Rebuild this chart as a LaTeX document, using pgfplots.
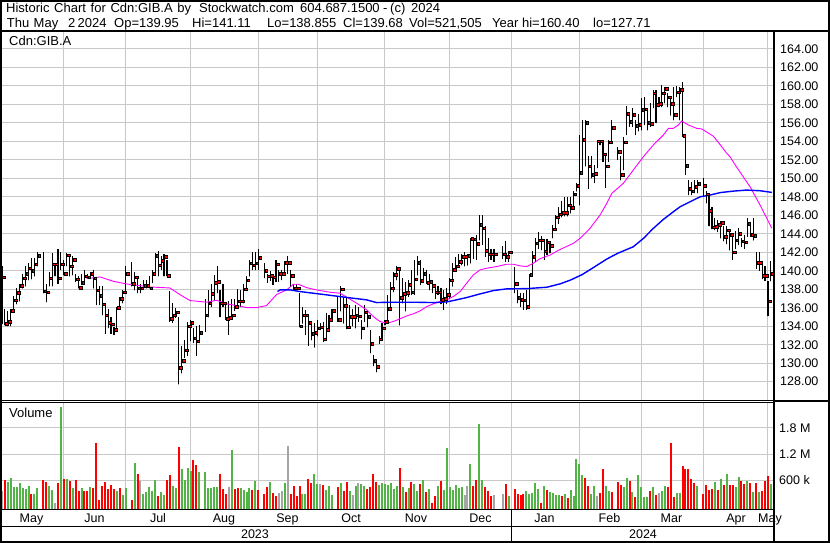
\documentclass[border=0pt]{standalone}
\usepackage{pgfplots}
\usepackage{pgfplotstable}
\pgfplotsset{compat=1.18}
\usepackage{fontspec}
\setmainfont{Liberation Sans}
\definecolor{gridgray}{RGB}{200,200,200}
\definecolor{vgreen}{RGB}{82,180,70}
\definecolor{vgray}{RGB}{165,165,165}
\definecolor{cred}{RGB}{255,0,0}
\definecolor{mag}{RGB}{255,0,255}
\definecolor{mblue}{RGB}{0,0,255}

% daily bars: i = weekday slot since 3 May 2023 (holidays left empty)
\pgfplotstableread{
i H L C
0 140.5 134.2 139.3
1 135.9 134.1 134.3
2 135.6 134.0 134.5
3 135.9 134.0 135.7
4 137.3 135.6 136.8
5 138.1 136.4 137.6
6 138.6 136.7 138.4
7 139.7 138.1 139.2
8 140.5 138.3 139.7
9 140.8 139.0 140.3
10 141.4 139.1 140.0
11 141.4 139.4 140.7
12 142.0 140.5 141.6
14 142.0 137.6 137.8
15 138.6 136.6 137.7
16 139.9 138.3 139.2
17 141.9 138.3 140.7
18 140.8 139.4 140.7
19 142.4 138.6 139.2
20 142.0 140.1 140.7
21 141.2 139.5 139.7
22 141.9 140.5 141.7
23 141.6 139.4 140.5
24 141.6 139.5 141.2
25 139.7 138.8 139.1
26 139.4 138.1 138.2
27 139.7 138.5 138.7
28 140.1 138.7 139.4
29 139.6 139.2 139.3
30 139.9 139.2 139.7
31 140.1 138.1 139.2
32 139.0 136.3 137.9
33 138.3 136.3 137.3
34 138.3 135.2 136.4
35 136.5 133.2 135.2
36 135.9 133.8 134.4
37 135.0 133.2 134.2
38 133.9 133.1 133.6
39 136.1 133.6 136.0
40 137.2 136.1 137.0
41 137.9 136.5 137.7
42 140.5 137.6 139.7
44 140.9 138.3 138.6
45 139.9 137.9 139.3
46 139.1 137.6 138.1
47 138.6 137.6 138.1
48 139.0 138.1 138.4
49 139.0 138.1 138.4
50 139.4 138.1 138.1
51 140.1 138.7 139.7
52 141.9 139.7 141.6
53 142.1 139.4 140.6
54 141.6 140.1 141.1
55 141.8 139.4 141.5
56 141.2 139.4 139.5
57 137.8 134.5 134.8
58 136.5 134.4 135.2
59 136.0 134.9 135.5
60 135.0 127.71 129.5
61 131.9 128.9 130.3
62 132.5 130.6 131.4
63 134.5 130.8 134.0
64 134.7 132.4 134.4
65 133.8 132.2 132.7
66 134.0 130.8 132.4
67 134.1 132.2 133.3
69 136.9 133.4 135.2
70 137.9 135.0 136.5
71 138.6 136.1 137.5
72 139.5 136.8 138.7
73 140.5 137.6 138.8
74 137.9 135.0 136.5
75 138.6 136.1 136.5
76 136.5 134.7 134.8
77 136.7 133.1 134.9
78 136.9 134.9 135.2
79 136.9 135.7 136.1
80 138.0 135.9 136.7
81 137.9 136.1 136.7
82 138.6 136.5 138.0
83 139.4 138.0 139.0
84 141.2 139.4 140.8
85 142.0 140.1 140.6
86 142.0 140.1 140.8
87 142.4 140.1 141.4
89 140.8 139.2 140.0
90 139.7 138.7 139.4
91 140.0 138.9 139.5
92 139.5 138.5 139.3
93 141.2 138.8 140.7
94 140.1 138.8 139.7
95 140.1 139.0 139.7
96 141.1 139.7 140.9
97 141.6 139.7 140.9
98 140.1 138.3 139.5
99 138.6 137.9 138.1
100 138.6 137.9 138.1
101 137.6 133.9 134.0
102 136.1 134.3 135.2
103 135.8 133.1 135.2
104 135.0 131.9 134.4
105 134.1 132.5 133.2
106 134.3 131.7 133.3
107 134.7 132.9 133.8
108 134.3 133.6 133.9
109 134.5 132.3 132.6
110 135.4 132.5 133.6
111 135.2 133.6 134.7
112 135.9 134.5 135.7
114 137.3 134.5 134.7
115 138.3 135.6 138.0
116 137.2 134.3 136.2
117 137.1 133.7 133.9
118 136.3 133.9 135.0
119 135.9 134.0 135.0
120 136.3 133.8 135.2
121 136.1 134.5 135.1
122 134.7 132.6 133.8
123 136.3 134.5 135.5
124 135.4 133.9 135.0
125 133.6 131.1 132.1
126 130.9 129.7 130.3
127 130.0 129.0 129.6
128 132.9 132.1 132.6
129 134.3 132.5 133.8
130 134.7 134.1 134.5
131 137.4 134.7 135.9
132 138.8 136.1 138.1
133 139.9 137.7 139.6
134 140.5 139.0 140.2
135 140.1 134.1 137.1
136 139.2 136.5 137.5
137 138.8 135.6 137.6
138 139.0 137.2 138.5
139 140.1 137.4 137.7
140 141.2 137.4 139.1
141 141.6 139.5 140.9
142 141.2 138.5 138.9
143 140.3 138.8 139.7
144 140.1 138.6 138.7
145 139.7 137.9 138.8
146 139.0 137.6 138.4
147 138.6 137.0 137.7
148 138.3 137.4 137.7
149 138.1 136.4 136.9
150 137.9 135.8 137.0
151 138.1 136.4 137.4
152 139.2 137.0 139.0
153 140.8 138.3 140.1
154 141.5 139.9 140.5
155 141.8 140.6 141.0
156 141.8 140.6 141.5
157 142.0 140.5 141.5
158 141.8 140.6 141.6
159 143.6 140.8 143.5
160 143.5 141.3 143.4
161 143.9 141.2 142.9
162 146.0 143.3 145.0
163 146.0 142.8 144.6
164 144.8 141.5 142.2
165 143.5 141.0 141.8
166 142.4 141.2 141.8
167 142.4 141.0 141.8
170 142.7 141.3 141.8
171 143.2 141.0 141.5
172 142.1 141.0 142.0
174 140.4 137.6 138.6
175 137.9 136.5 137.1
176 137.6 136.1 136.9
177 137.6 135.8 136.8
178 137.9 135.8 136.1
179 139.7 136.1 139.6
180 142.1 139.7 141.5
181 143.5 141.0 143.0
182 144.2 142.4 143.3
183 143.8 142.2 143.3
184 143.3 141.2 142.1
185 143.4 141.7 143.1
186 143.0 141.9 142.7
187 145.0 143.5 144.5
188 146.0 144.4 145.8
189 146.9 145.1 146.1
190 147.6 145.8 146.3
191 148.0 145.9 146.3
192 148.0 145.9 147.1
193 148.0 146.2 146.8
194 148.6 146.9 148.3
195 149.5 148.6 149.2
196 154.7 147.1 150.6
197 156.3 150.5 154.2
198 156.3 151.3 156.0
199 152.4 148.9 151.3
200 152.4 150.0 150.4
201 151.4 149.5 150.5
202 154.2 151.1 154.0
203 154.2 153.6 154.0
204 154.0 151.8 152.6
205 152.4 149.0 151.3
206 154.2 151.8 153.9
207 156.3 153.8 155.5
209 153.4 152.0 152.9
210 152.4 149.8 150.4
211 154.5 150.9 153.9
212 157.8 154.7 157.0
213 157.0 155.6 156.1
214 157.6 155.6 156.9
215 156.3 154.7 155.7
216 157.0 155.1 155.8
217 158.7 155.2 157.4
218 158.8 155.8 157.5
219 157.4 155.2 156.0
220 158.1 155.6 155.9
221 159.6 157.6 159.2
222 159.6 156.0 158.0
223 158.8 157.7 158.1
224 160.1 157.7 159.2
225 159.9 158.1 159.7
226 159.2 157.7 158.8
227 158.8 156.8 158.1
228 159.9 156.3 156.9
229 160.0 158.8 159.3
230 159.9 156.3 159.6
231 160.40 154.5 154.6
232 154.5 150.4 151.4
233 149.8 148.2 148.9
234 149.6 148.2 148.6
235 149.8 148.4 149.1
236 149.8 148.4 149.4
238 150.0 148.0 149.2
239 148.6 147.3 148.3
240 148.4 144.8 146.5
241 146.9 144.5 144.7
242 145.7 144.4 144.8
243 145.5 144.2 145.0
244 145.4 143.5 145.2
245 144.8 143.2 143.7
246 144.8 142.9 144.4
247 144.4 142.2 143.9
248 144.1 141.2 142.0
249 144.3 142.4 143.3
250 144.6 142.8 144.0
251 143.5 142.6 143.2
252 143.9 142.4 143.1
253 145.7 143.7 145.1
254 145.2 143.7 143.9
255 145.7 143.3 143.8
256 142.0 140.2 140.9
257 142.0 140.0 140.9
258 140.8 139.1 139.5
259 140.5 138.9 139.5
260 138.9 135.1 136.7
261 141.11 138.855 139.68
}\prices

\pgfplotstableread{
i v
2 0.56
3 0.65
4 0.44
5 0.44
6 0.53
7 0.43
8 0.41
9 0.46
11 0.28
12 0.42
16 0.46
17 0.37
20 2.28
22 0.63
24 0.43
27 0.42
30 0.44
39 0.35
41 0.26
42 0.42
45 1.00
48 0.28
49 0.33
50 0.44
51 0.35
52 0.60
54 0.33
55 0.26
58 0.46
59 0.42
61 0.86
62 0.60
63 0.88
64 0.81
67 0.79
69 0.79
70 0.42
71 0.42
72 0.44
73 0.44
78 1.30
81 0.42
82 0.37
83 0.33
84 0.42
86 0.58
91 0.56
96 0.53
102 0.28
103 0.28
106 0.74
107 0.51
110 0.37
111 0.46
112 0.26
115 0.53
118 0.35
120 0.46
122 0.51
123 0.46
128 0.49
129 0.53
130 0.51
131 0.49
132 0.53
133 0.39
134 0.46
136 0.44
138 0.42
140 0.51
141 0.35
143 0.60
145 0.39
148 0.46
150 0.37
151 1.35
152 0.44
153 0.37
154 0.49
155 0.42
156 0.44
159 0.98
162 1.90
163 0.60
172 0.23
178 0.35
179 0.28
180 0.30
181 0.53
182 0.39
184 0.46
186 0.33
187 0.30
188 0.26
189 0.26
191 0.28
193 0.37
194 0.23
195 1.09
196 0.98
197 0.72
200 0.28
201 0.46
205 0.46
206 0.35
211 0.44
212 0.65
214 0.33
216 0.72
217 0.44
218 0.21
219 0.21
221 0.44
224 0.35
225 0.46
229 0.30
230 0.30
236 0.46
242 0.56
244 0.63
246 0.74
249 0.44
250 0.67
253 0.58
255 0.33
257 0.33
261 0.52
}\volg

\pgfplotstableread{
i v
1 0.60
10 0.29
14 0.60
15 0.55
19 0.53
21 0.63
23 0.58
25 0.60
26 0.35
28 0.35
29 0.35
31 0.42
32 1.46
33 0.16
34 0.46
35 0.56
36 0.39
37 0.49
38 0.39
40 0.42
44 0.14
46 0.74
53 0.23
56 0.60
57 0.72
60 1.37
65 1.07
66 0.95
74 0.74
75 0.39
76 0.28
79 0.39
80 0.42
85 0.37
87 0.37
89 0.28
90 0.44
92 0.30
93 0.23
98 0.28
99 0.46
100 0.23
101 0.46
104 0.63
105 0.53
109 0.49
114 0.44
116 0.35
117 0.56
124 0.39
125 0.44
126 0.74
127 0.56
135 0.88
137 0.33
139 0.56
142 0.51
144 0.33
146 0.07
147 0.23
149 0.58
160 0.46
161 0.60
164 0.44
165 0.35
166 0.23
171 0.51
174 0.39
175 0.28
176 0.26
177 0.28
183 0.07
185 0.37
190 0.23
192 0.19
198 0.65
199 0.46
203 0.30
204 0.86
207 0.33
209 0.56
210 0.49
213 0.58
215 0.21
220 0.35
222 0.26
226 0.44
227 1.46
228 0.21
231 0.93
232 0.86
233 0.86
234 0.63
235 0.53
238 0.28
239 0.49
240 0.37
241 0.39
243 0.37
245 0.49
247 0.49
248 0.49
251 0.58
252 0.51
254 0.53
256 0.53
258 0.35
259 0.58
260 0.70
}\volr

\pgfplotstableread{
i v
0 0.35
18 0.07
47 0.58
77 0.44
94 0.30
95 0.35
97 1.39
108 0.51
119 0.26
121 0.53
157 0.26
158 0.46
167 0.26
170 0.28
202 0.23
223 0.30
}\volk

\pgfplotsset{
  chartax/.style={
    scale only axis, anchor=south west, width=774pt,
    xmin=-0.68, xmax=262.05,
    axis line style={draw=none}, tick style={draw=none},
    major tick length=0pt,
    xtick={21,42,64,87,107,130,152,173,196,217,238,260},
    xticklabels={},
    grid=major, major grid style={draw=gridgray, line width=1pt},
    yticklabel pos=right,
    yticklabel style={anchor=west, inner sep=0pt, font=\fontsize{12.5}{14}\selectfont},
  },
  hidemarks/.style={only marks, mark=*, mark size=0.01pt, mark options={draw=none, fill=none}},
}

\newcommand{\tf}{\fontsize{13}{15}\selectfont}

\begin{document}
\begin{tikzpicture}[x=1pt,y=1pt]
\useasboundingbox (0,0) rectangle (830,543);

% ---------------- price panel ----------------
\begin{axis}[chartax,
  at={(0pt,142pt)}, height=369pt,
  ymin=125.912, ymax=165.834,
  ytick={128,130,...,164},
  yticklabel={\pgfmathprintnumber[fixed,fixed zerofill,precision=2,assume math mode=true]{\tick}},
  yticklabel style={xshift=6pt},
]
\addplot[black, hidemarks,
  error bars/.cd, y dir=plus, y explicit, error mark=none,
  error bar style={draw=black, line width=1.1pt}]
  table[x=i, y=L, y error plus expr=\thisrow{H}-\thisrow{L}] {\prices};
\addplot[only marks, mark=square*, mark size=1.3pt,
  mark options={fill=cred, draw=none}]
  table[x expr=\thisrow{i}+0.62, y=C] {\prices};
% moving averages
\addplot[mag, line width=0.9pt] coordinates {
(28.7,139.15) (33.3,139.33) (37.8,138.86) (42.3,138.57) (46.8,138.39) (50.2,138.25)
(57.0,138.14) (60.4,137.42) (63.8,136.78) (69.5,136.6) (72.9,136.81) (76.3,136.42)
(80.8,136.17) (83.1,136.02) (86.5,136.02) (89.8,136.24) (93.2,137.43) (96.6,137.93)
(98.9,138.54) (100.6,138.54) (103.4,138.18) (105.7,138.0) (107.9,137.86) (111.3,137.68)
(114.7,137.57) (117.0,137.14) (120.4,136.49) (123.8,135.77) (126.0,135.05) (128.3,134.51)
(130.6,134.33) (132.8,134.51) (135.1,134.80) (137.4,135.12) (139.6,135.34) (141.9,135.66)
(144.2,136.13) (146.4,136.42) (148.7,136.67) (150.9,136.85) (153.2,137.21) (155.5,137.75)
(157.7,138.65) (160.0,139.55) (162.3,140.10) (164.5,140.28) (167.9,140.46) (171.3,140.71)
(173.6,140.71) (175.8,140.53) (178.1,140.46) (180.4,140.82) (182.6,141.3) (186.0,141.70)
(189.4,142.3) (193.9,142.96) (196.2,143.50) (199.6,144.59) (203.0,146.03) (205.3,147.30)
(207.0,148.38) (210.9,149.46) (214.3,150.90) (217.7,152.34) (221.1,153.61) (224.5,154.69)
(226.2,155.41) (227.9,155.41) (229.6,155.77) (230.7,156.20) (233.0,155.77) (235.8,155.41)
(237.5,155.35) (241.5,154.55) (244.3,153.43) (246.0,152.71) (247.1,152.35) (249.4,151.2)
(253.9,149.10) (257.3,147.12) (259.6,145.68) (261.3,144.6)
};
\addplot[mblue, line width=1.4pt] coordinates {
(93.5,137.75) (94.4,137.93) (97.8,137.93) (101.2,137.75) (105.7,137.57) (110.3,137.39)
(114.7,137.21) (119.2,137.03) (123.8,136.85) (127.1,136.56) (131.7,136.60) (139.6,136.60)
(146.4,136.56) (150.9,136.63) (153.2,136.78) (157.7,137.10) (162.3,137.50) (166.8,137.86)
(171.3,138.04) (178.1,138.07) (184.9,138.22) (189.4,138.58) (193,139.0) (197,139.6)
(201,140.4) (205.3,141.27) (208.9,141.88) (214.3,142.60) (217.7,143.50) (221.1,144.59)
(224.5,145.56) (227.9,146.39) (230.2,146.93) (233.6,147.47) (237.0,148.01) (240.3,148.19)
(243.8,148.46) (248.3,148.62) (252.7,148.73) (257.3,148.66) (261.3,148.48)
};
\end{axis}

% ---------------- volume panel ----------------
\begin{axis}[chartax,
  at={(0pt,34pt)}, height=106.7pt,
  ymin=-0.0573, ymax=2.386,
  ytick={0.6,1.2,1.8}, yticklabels={600 k,1.2 M,1.8 M},
  yticklabel style={xshift=5pt},
]
\addplot[vgreen, hidemarks,
  error bars/.cd, y dir=plus, y explicit, error mark=none,
  error bar style={draw=vgreen, line width=2pt}]
  table[x=i, y expr=-0.057, y error plus expr=\thisrow{v}+0.057] {\volg};
\addplot[cred, hidemarks,
  error bars/.cd, y dir=plus, y explicit, error mark=none,
  error bar style={draw=cred, line width=2pt}]
  table[x=i, y expr=-0.057, y error plus expr=\thisrow{v}+0.057] {\volr};
\addplot[vgray, hidemarks,
  error bars/.cd, y dir=plus, y explicit, error mark=none,
  error bar style={draw=vgray, line width=2pt}]
  table[x=i, y expr=-0.057, y error plus expr=\thisrow{v}+0.057] {\volk};
\end{axis}

% ---------------- texts ----------------
\begin{scope}[every node/.style={inner sep=0pt, anchor=base west, font=\tf}]
\node at (6,530.7) {\spaceskip=4.7pt Historic Chart for Cdn:GIB.A by};
\node at (199,530.7) {Stockwatch.com};
\node at (300,530.7) {604.687.1500};
\node at (383,530.7) {-};
\node at (390,530.7) {(c)};
\node at (411,530.7) {2024};
\node at (6.7,515.7) {Thu};
\node at (33.5,515.7) {May};
\node at (68,515.7) {2};
\node at (77.5,515.7) {2024};
\node at (114,515.7) {Op=139.95};
\node at (192,515.7) {Hi=141.11};
\node at (267,515.7) {Lo=138.855};
\node at (343,515.7) {Cl=139.68};
\node at (409,515.7) {Vol=521,505};
\node at (492,515.7) {Year hi=160.40};
\node at (593,515.7) {lo=127.71};
\node at (9,497) {Cdn:GIB.A};
\node at (9,125.3) {Volume};
\end{scope}
\begin{scope}[every node/.style={inner sep=0pt, anchor=base, font=\fontsize{12.5}{14}\selectfont}]
\node at (31.5,20.3) {May};
\node at (94.5,20.3) {Jun};
\node at (158,20.3) {Jul};
\node at (224,20.3) {Aug};
\node at (287.5,20.3) {Sep};
\node at (351,20.3) {Oct};
\node at (416,20.3) {Nov};
\node at (480.5,20.3) {Dec};
\node at (544.5,20.3) {Jan};
\node at (609.5,20.3) {Feb};
\node at (671.5,20.3) {Mar};
\node at (736,20.3) {Apr};
\node at (770,20.3) {May};
\node at (255,4) {2023};
\node at (643,4) {2024};
\end{scope}

% ---------------- frame lines ----------------
\draw[line width=2pt] (1,1) rectangle (829,542);
\draw[line width=2.2pt] (0,512.3) -- (830,512.3);
\draw[line width=2pt] (774,512.3) -- (774,0);
\draw[line width=0.9pt] (0,142.2) -- (774,142.2);
\draw[line width=0.9pt] (0,140.4) -- (774,140.4);
\draw[line width=2pt] (774,141.5) -- (830,141.5);
\draw[line width=1.5pt] (0,33.7) -- (774,33.7);
\draw[line width=1.5pt] (0,16.3) -- (774,16.3);
\draw[line width=1.5pt] (511.7,33.7) -- (511.7,0);
\end{tikzpicture}
\end{document}
